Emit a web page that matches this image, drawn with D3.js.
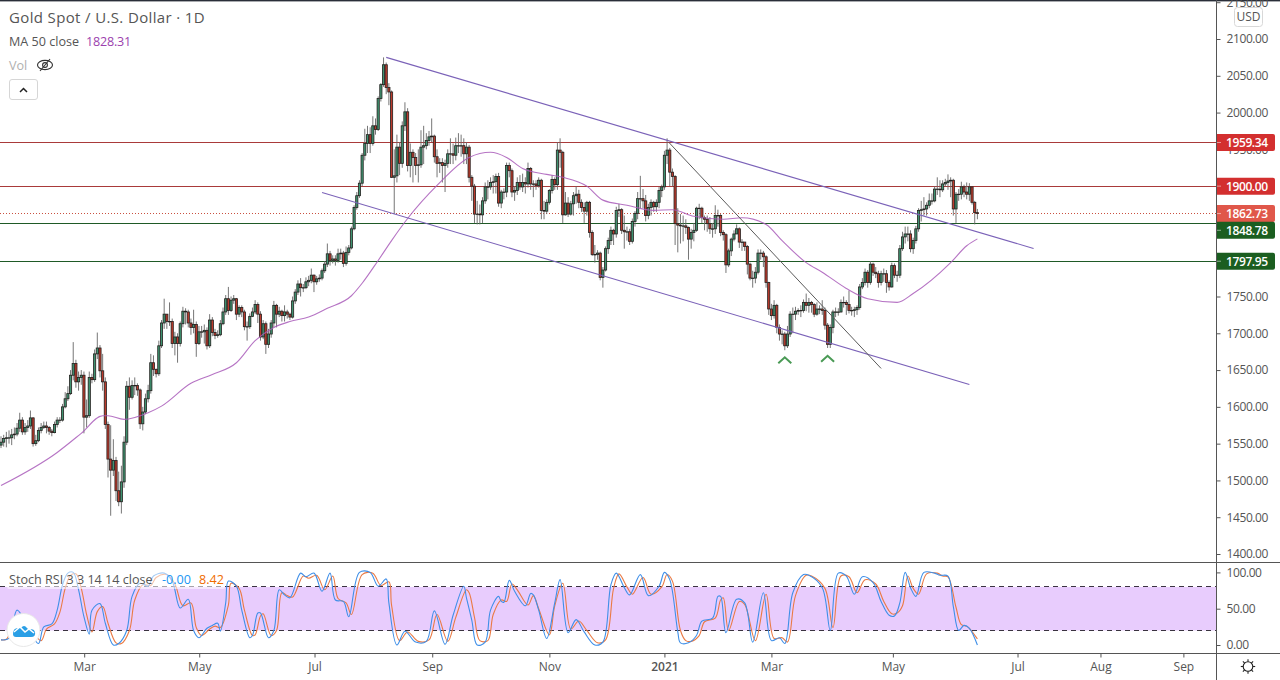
<!DOCTYPE html>
<html><head><meta charset="utf-8">
<style>html,body{margin:0;padding:0;background:#fff;overflow:hidden}svg{display:block}text{font-family:"Open Sans",sans-serif}</style>
<script src="https://cdnjs.cloudflare.com/ajax/libs/d3/7.8.5/d3.min.js"></script>
</head><body>
<svg id="c" width="1280" height="680"></svg>
<script>
const opens=[
1548,1552,1557,1558,1558,1562,1563,1571,1582,1566,
1572,1574,1585,1550,1554,1568,1572,1574,1572,1567,
1565,1576,1582,1582,1600,1611,1618,1643,1659,1634,
1640,1643,1586,1588,1640,1637,1672,1680,1649,1634,
1576,1529,1514,1527,1486,1471,1498,1552,1628,1613,
1629,1629,1623,1577,1593,1611,1622,1660,1651,1645,
1683,1714,1726,1716,1716,1686,1695,1686,1713,1730,
1729,1714,1708,1712,1686,1702,1702,1704,1683,1718,
1701,1697,1698,1713,1729,1747,1731,1745,1747,1726,
1735,1729,1709,1709,1723,1729,1739,1726,1695,1713,
1685,1699,1714,1738,1726,1730,1724,1729,1726,1722,
1744,1756,1767,1762,1762,1770,1772,1779,1770,1774,
1775,1785,1794,1808,1799,1801,1799,1808,1809,1795,
1810,1816,1842,1871,1887,1904,1942,1958,1970,1958,
1982,1977,2019,2038,2065,2034,2028,1912,1914,1953,
1931,1982,2001,1928,1946,1939,1928,1929,1953,1955,
1962,1967,1968,1940,1931,1932,1928,1931,1944,1944,
1942,1955,1955,1955,1944,1953,1912,1900,1862,1862,
1861,1880,1899,1899,1905,1906,1913,1877,1892,1892,
1928,1921,1892,1894,1905,1899,1905,1903,1924,1903,
1903,1901,1908,1867,1866,1878,1894,1909,1902,1949,
1946,1861,1877,1862,1876,1887,1889,1878,1871,1866,
1878,1837,1807,1807,1809,1776,1786,1815,1826,1840,
1835,1867,1868,1840,1838,1838,1825,1852,1863,1883,
1883,1880,1860,1871,1878,1872,1878,1894,1899,1942,
1949,1919,1913,1849,1847,1846,1846,1844,1828,1837,
1840,1870,1870,1857,1855,1849,1842,1842,1860,1860,
1837,1834,1793,1812,1828,1835,1842,1824,1824,1818,
1794,1775,1775,1783,1809,1809,1804,1769,1733,1724,
1738,1708,1699,1699,1683,1699,1726,1726,1730,1731,
1731,1742,1738,1742,1739,1726,1733,1733,1731,1711,
1685,1708,1729,1729,1729,1742,1742,1739,1731,1731,
1732,1735,1763,1769,1783,1769,1794,1783,1781,1769,
1781,1781,1769,1763,1792,1779,1779,1815,1831,1835,
1835,1815,1826,1842,1867,1868,1869,1874,1880,1880,
1896,1896,1895,1903,1905,1907,1908,1869,1889,1889,
1899,1892,1889,1899,1878,1864];
const highs=[
1560,1562,1566,1568,1570,1572,1578,1592,1586,1578,
1582,1595,1586,1562,1572,1578,1580,1580,1574,1570,
1580,1586,1586,1604,1620,1628,1650,1688,1664,1648,
1650,1648,1610,1648,1645,1678,1701,1684,1672,1640,
1580,1575,1556,1532,1512,1520,1560,1635,1640,1636,
1640,1632,1625,1600,1618,1630,1672,1670,1652,1690,
1718,1747,1726,1742,1720,1702,1700,1716,1736,1734,
1732,1720,1732,1716,1710,1710,1712,1708,1726,1722,
1706,1704,1718,1735,1752,1763,1750,1752,1748,1738,
1738,1732,1716,1727,1735,1745,1742,1730,1718,1716,
1706,1718,1744,1740,1736,1732,1738,1732,1728,1750,
1760,1772,1775,1767,1776,1778,1788,1780,1778,1780,
1788,1798,1822,1812,1806,1806,1815,1815,1812,1818,
1820,1845,1874,1892,1908,1945,1978,1982,1980,1995,
1992,2022,2040,2075,2068,2040,2030,1950,1970,1960,
1988,2014,2006,1958,1950,1945,1950,1976,1982,1972,
1975,1992,1970,1950,1938,1938,1936,1950,1965,1958,
1966,1972,1970,1965,1960,1956,1915,1903,1880,1875,
1885,1905,1908,1912,1915,1917,1918,1895,1897,1932,
1932,1924,1900,1912,1915,1917,1912,1932,1926,1908,
1908,1912,1910,1880,1882,1896,1915,1912,1960,1965,
1948,1892,1885,1880,1892,1900,1895,1882,1878,1880,
1880,1840,1820,1813,1811,1790,1818,1830,1845,1842,
1872,1876,1870,1860,1845,1842,1856,1866,1892,1914,
1896,1888,1876,1882,1880,1882,1899,1902,1948,1965,
1952,1924,1915,1870,1862,1860,1855,1845,1842,1850,
1872,1876,1872,1860,1860,1858,1850,1874,1868,1862,
1840,1836,1815,1830,1840,1848,1844,1828,1820,1820,
1796,1785,1790,1814,1814,1812,1806,1770,1740,1745,
1740,1712,1704,1702,1710,1730,1735,1736,1734,1738,
1746,1754,1748,1744,1741,1742,1738,1745,1735,1714,
1712,1732,1735,1734,1746,1750,1745,1758,1736,1736,
1738,1767,1775,1788,1786,1798,1796,1790,1785,1785,
1788,1786,1772,1796,1795,1785,1820,1838,1845,1845,
1840,1830,1846,1870,1880,1885,1878,1890,1890,1900,
1912,1908,1908,1910,1916,1912,1910,1892,1896,1906,
1902,1905,1904,1900,1880,1869];
const lows=[
1544,1546,1545,1550,1548,1556,1560,1566,1562,1562,
1566,1570,1546,1547,1552,1564,1570,1564,1562,1560,
1564,1572,1578,1580,1598,1608,1616,1636,1626,1622,
1630,1564,1572,1585,1632,1634,1665,1640,1622,1570,
1504,1452,1506,1472,1465,1455,1490,1548,1596,1610,
1616,1615,1570,1568,1590,1606,1618,1642,1640,1642,
1680,1706,1706,1710,1680,1670,1660,1682,1708,1712,
1708,1698,1700,1668,1684,1694,1686,1678,1680,1696,
1692,1694,1696,1711,1725,1725,1729,1740,1718,1722,
1722,1704,1690,1706,1722,1726,1714,1690,1692,1672,
1680,1694,1708,1708,1722,1716,1716,1720,1718,1720,
1740,1752,1750,1756,1760,1764,1768,1756,1766,1770,
1772,1782,1790,1792,1795,1792,1796,1800,1790,1792,
1806,1814,1840,1868,1884,1900,1935,1945,1945,1955,
1970,1975,2015,2035,2025,2010,1911,1862,1905,1915,
1925,1975,1920,1912,1905,1915,1905,1925,1930,1950,
1955,1960,1932,1912,1918,1905,1892,1925,1930,1930,
1935,1945,1940,1930,1930,1905,1880,1850,1848,1848,
1850,1876,1882,1895,1890,1890,1872,1870,1882,1885,
1912,1885,1880,1888,1895,1892,1890,1898,1895,1885,
1895,1898,1855,1855,1862,1875,1890,1895,1895,1925,
1850,1860,1858,1860,1860,1876,1870,1865,1850,1860,
1830,1805,1796,1800,1772,1762,1784,1808,1820,1820,
1830,1858,1835,1815,1826,1820,1822,1845,1855,1870,
1870,1852,1855,1860,1865,1865,1870,1885,1895,1930,
1900,1900,1820,1810,1822,1825,1835,1800,1815,1825,
1838,1855,1850,1840,1838,1835,1830,1835,1845,1832,
1826,1782,1790,1805,1825,1835,1816,1812,1812,1780,
1772,1762,1768,1780,1800,1790,1762,1725,1718,1720,
1700,1690,1685,1677,1680,1695,1700,1718,1725,1722,
1728,1730,1728,1728,1722,1724,1726,1725,1705,1680,
1680,1700,1722,1724,1728,1735,1725,1727,1724,1722,
1725,1732,1760,1765,1762,1766,1778,1775,1762,1765,
1770,1755,1758,1762,1775,1770,1775,1812,1822,1825,
1810,1808,1822,1838,1852,1860,1860,1870,1875,1878,
1888,1885,1892,1900,1895,1885,1860,1850,1880,1882,
1885,1882,1880,1875,1848,1855];
const closes=[
1552,1557,1558,1558,1562,1563,1571,1582,1566,1572,
1574,1585,1550,1554,1568,1572,1574,1572,1567,1565,
1576,1582,1582,1600,1611,1618,1643,1659,1634,1640,
1643,1586,1588,1640,1637,1672,1680,1649,1634,1576,
1529,1514,1527,1486,1471,1498,1552,1628,1613,1629,
1629,1623,1577,1593,1611,1622,1660,1651,1645,1683,
1714,1726,1716,1716,1686,1695,1686,1713,1730,1729,
1714,1708,1712,1686,1702,1702,1704,1683,1718,1701,
1697,1698,1713,1729,1747,1731,1745,1747,1726,1735,
1729,1709,1709,1723,1729,1739,1726,1695,1713,1685,
1699,1714,1738,1726,1730,1724,1729,1726,1722,1744,
1756,1767,1762,1762,1770,1772,1779,1770,1774,1775,
1785,1794,1808,1799,1801,1799,1808,1809,1795,1810,
1816,1842,1871,1887,1904,1942,1958,1970,1958,1982,
1977,2019,2038,2065,2034,2028,1912,1914,1953,1931,
1982,2001,1928,1946,1939,1928,1929,1953,1955,1962,
1967,1968,1940,1931,1932,1928,1931,1944,1944,1942,
1955,1955,1955,1944,1953,1912,1900,1862,1862,1861,
1880,1899,1899,1905,1906,1913,1877,1892,1892,1928,
1921,1892,1894,1905,1899,1905,1903,1924,1903,1903,
1901,1908,1867,1866,1878,1894,1909,1902,1949,1946,
1861,1877,1862,1876,1887,1889,1878,1871,1866,1878,
1837,1807,1807,1809,1776,1786,1815,1826,1840,1835,
1867,1868,1840,1838,1838,1825,1852,1863,1883,1883,
1880,1860,1871,1878,1872,1878,1894,1899,1942,1949,
1919,1913,1849,1847,1846,1846,1844,1828,1837,1840,
1870,1870,1857,1855,1849,1842,1842,1860,1860,1837,
1834,1793,1812,1828,1835,1842,1824,1824,1818,1794,
1775,1775,1783,1809,1809,1804,1769,1733,1724,1738,
1708,1699,1699,1683,1699,1726,1726,1730,1731,1731,
1742,1738,1742,1739,1726,1733,1733,1731,1711,1685,
1708,1729,1729,1729,1742,1742,1739,1731,1731,1732,
1735,1763,1769,1783,1769,1794,1783,1781,1769,1781,
1781,1769,1763,1792,1779,1779,1815,1831,1835,1835,
1815,1826,1842,1867,1868,1869,1874,1880,1880,1896,
1896,1895,1903,1905,1907,1908,1869,1889,1889,1899,
1892,1889,1899,1878,1864,1862.73];

const maBars=[0,21,30,38,40,46,55,60,71,79,88,95,102,108,115,122,131,135,141,146,152,163,175,183,189,195,204,210,219,225,234,244,251,259,270,277,286,292,301,307,316,324,335,341,355,361,365];
const maValues=[1493,1538,1564,1588,1588,1583,1592,1601,1632,1644,1660,1690,1708,1716,1722,1734,1751,1768,1799,1826,1856,1901,1939,1946,1939,1924,1916,1912,1900,1881,1874,1867,1868,1859,1855,1857,1848,1826,1796,1783,1761,1747,1742,1754,1796,1819,1828.31];

const kBars=[0,3,6,10,14,16,19,21,23,25,27,29,31,33,34,37,39,42,44,47,49,52,55,57,61,64,67,70,72,74,77,79,81,82,84,85,88,90,93,94,96,97,100,102,104,106,108,112,114,117,120,123,125,128,130,134,138,141,144,145,148,151,155,159,162,166,169,173,174,176,178,181,183,186,187,188,190,192,196,198,199,201,204,207,209,212,215,218,222,225,228,230,233,235,239,242,246,248,250,253,254,257,260,262,266,268,269,271,275,278,281,285,288,291,293,296,300,302,307,310,313,316,319,322,326,329,332,334,336,338,340,342,345,349,351,354,356,358,360,362,365];
const kValues=[7,9,48,25,2,25,29,48,83,99,100,76,39,15,48,57,30,0,2,20,67,85,81,95,99,88,51,63,20,10,23,27,30,19,58,88,81,48,10,13,44,44,10,20,76,69,65,99,94,99,74,99,62,60,39,100,100,81,91,58,0,19,4,5,47,1,41,81,65,34,0,4,48,67,60,59,89,74,54,71,69,48,9,58,90,17,35,18,0,4,83,99,79,69,97,68,81,100,90,18,3,3,13,33,37,67,67,17,63,58,4,72,6,10,2,72,97,96,79,20,99,95,70,94,86,60,41,40,58,100,79,67,100,99,96,95,53,20,27,23,0];
const dBars=[0,2,7,11,15,17,20,22,24,26,28,30,32,34,36,38,40,43,45,48,50,53,56,58,62,65,68,71,73,75,78,80,82,85,86,89,91,94,95,97,98,101,103,105,107,109,113,115,118,121,124,126,129,131,135,139,142,145,146,149,152,156,160,163,167,170,174,175,177,179,182,184,187,189,191,193,197,199,201,205,207,210,213,216,219,223,226,229,231,234,236,240,243,247,249,251,254,256,258,261,263,267,269,270,272,276,278,282,286,289,292,294,297,301,303,308,311,314,317,320,323,327,330,333,335,337,339,341,343,346,350,352,354,357,359,361,362,365];
const dValues=[7,8,40,22,6,22,29,45,78,96,98,78,42,18,46,53,30,3,2,20,62,83,82,93,97,84,54,58,24,13,22,26,24,55,85,78,48,13,14,40,43,13,20,72,68,66,95,92,96,76,95,64,58,42,97,99,82,87,55,6,18,5,7,42,5,38,76,72,38,6,6,42,62,60,84,76,55,68,50,14,54,85,22,33,20,3,7,78,98,80,70,93,70,80,97,88,20,6,5,13,32,37,62,65,20,60,56,6,70,9,10,4,68,96,95,78,24,95,94,72,90,84,60,43,44,54,95,78,70,98,99,95,94,52,28,26,23,8.42];

const hLevels=[1959.34,1900,1848.78,1797.95];
const hColors=["#a93a3a","#a93a3a","#1f5a26","#1f5a26"];
const lastPrice=1862.73;
const badgeValues=[1959.34,1900.00,1862.73,1848.78,1797.95];
const badgeShown=[1959.34,1900.00,1862.73,1840,1797.95];
const badgeColors=["#d32f2f","#d32f2f","#e0574a","#1b5e20","#1b5e20"];
const upperChannel=[[144,2075],[386,1815.3]];
const lowerChannel=[[120,1891.4],[362,1630.5]];
const blackTrend=[[249.7,1959.3],[329,1652.2]];
const chevrons=[[293,1666],[309,1668]];
const priceTicks=[2150,2100,2050,2000,1950,1900,1850,1800,1750,1700,1650,1600,1550,1500,1450,1400];
const stochTicks=[100,50,0];
const timeTickBars=[31.1,74.1,117.2,161.2,205,248,288,333.4,380,411,442];
const timeTickLabels=["Mar","May","Jul","Sep","Nov","2021","Mar","May","Jul","Aug","Sep"];

const W=1280,H=680,R=1216,PT=1,PB=562,ST=563,SB=653;
const svg=d3.select("#c");
const x=d3.scaleLinear().domain([0,365]).range([1,977.4]);
const y=d3.scaleLinear().domain([1400,2100]).range([554,39]);
const s=d3.scaleLinear().domain([0,100]).range([645,572.4]);
const ink="#555";
const crisp=v=>Math.floor(v)+.5;

const defs=svg.append("defs");
defs.append("clipPath").attr("id","mc").append("rect").attr("x",0).attr("y",PT).attr("width",R).attr("height",PB-PT);
defs.append("clipPath").attr("id","sc").append("rect").attr("x",0).attr("y",ST).attr("width",R).attr("height",SB-ST);

const main=svg.append("g").attr("clip-path","url(#mc)");
main.selectAll("line.h").data(hLevels).join("line").attr("class","h")
 .attr("x1",0).attr("x2",R).attr("y1",d=>crisp(y(d))).attr("y2",d=>crisp(y(d)))
 .attr("stroke",(d,i)=>hColors[i]).attr("stroke-width",1.1);
main.append("line").attr("x1",0).attr("x2",R).attr("y1",crisp(y(lastPrice))).attr("y2",crisp(y(lastPrice)))
 .attr("stroke","#c9503f").attr("stroke-dasharray","1 2").attr("stroke-width",1);

const bars=closes.map((c,i)=>({i,o:opens[i],h:highs[i],l:lows[i],c}));
main.append("g").selectAll("line").data(bars).join("line")
 .attr("x1",d=>x(d.i)).attr("x2",d=>x(d.i)).attr("y1",d=>y(d.h)).attr("y2",d=>y(d.l))
 .attr("stroke","#666").attr("stroke-width",0.9);
main.append("g").selectAll("rect").data(bars).join("rect")
 .attr("x",d=>x(d.i)-1.1).attr("width",2.2)
 .attr("y",d=>y(Math.max(d.o,d.c)))
 .attr("height",d=>Math.max(0.4,Math.abs(y(d.o)-y(d.c))))
 .attr("fill",d=>d.c>=d.o?"#3f9270":"#bb3a2c")
 .attr("stroke","#24201e").attr("stroke-width",0.8);

main.append("path").datum(maBars.map((b,i)=>[b,maValues[i]]))
 .attr("d",d3.line().x(d=>x(d[0])).y(d=>y(d[1])).curve(d3.curveMonotoneX))
 .attr("fill","none").attr("stroke","#a95cba").attr("stroke-width",1.1).attr("opacity",.85);

const ln=d3.line().x(d=>x(d[0])).y(d=>y(d[1]));
[upperChannel,lowerChannel].forEach(t=>main.append("path").attr("d",ln(t)).attr("stroke","#7b62b8").attr("stroke-width",1.1).attr("fill","none"));
main.append("path").attr("d",ln(blackTrend)).attr("stroke","#5a5a5a").attr("stroke-width",1).attr("fill","none");
main.append("g").selectAll("path").data(chevrons).join("path")
 .attr("d",d=>{const a=x(d[0]),b=y(d[1]);return `M${a-6.5},${b+5}L${a},${b-1}L${a+6.5},${b+5}`;})
 .attr("fill","none").attr("stroke","#4a9a55").attr("stroke-width",2);

// stochastic pane
const sp=svg.append("g").attr("clip-path","url(#sc)");
sp.append("rect").attr("x",0).attr("width",R).attr("y",s(80)).attr("height",s(20)-s(80)).attr("fill","#e8ccfd");
[80,20].forEach(v=>sp.append("line").attr("x1",0).attr("x2",R).attr("y1",crisp(s(v))).attr("y2",crisp(s(v))).attr("stroke","#3a3340").attr("stroke-dasharray","5 4").attr("stroke-width",1));
const sl=d3.line().x(d=>x(d[0])).y(d=>s(d[1])).curve(d3.curveCatmullRom.alpha(0.5));
sp.append("path").attr("d",sl(dBars.map((b,i)=>[b,dValues[i]]))).attr("fill","none").attr("stroke","#ea7a44").attr("stroke-width",1.1);
sp.append("path").attr("d",sl(kBars.map((b,i)=>[b,kValues[i]]))).attr("fill","none").attr("stroke","#3f8fe8").attr("stroke-width",1.1);

// frame
svg.append("rect").attr("x",0).attr("y",0).attr("width",W).attr("height",1.4).attr("fill","#2a2e39");
[PB,SB].forEach(v=>svg.append("line").attr("x1",0).attr("x2",W).attr("y1",v+.5).attr("y2",v+.5).attr("stroke","#555").attr("stroke-width",1));
svg.append("line").attr("x1",R+.5).attr("x2",R+.5).attr("y1",0).attr("y2",H).attr("stroke","#555").attr("stroke-width",1);

// axes
const pa=svg.append("g").attr("transform",`translate(${R+.5},0)`).call(d3.axisRight(y).tickValues(priceTicks).tickSize(4).tickPadding(6).tickFormat(d3.format(".2f")));
const sa=svg.append("g").attr("transform",`translate(${R+.5},0)`).call(d3.axisRight(s).tickValues(stochTicks).tickSize(4).tickPadding(6).tickFormat(d3.format(".2f")));
const ta=svg.append("g").attr("transform",`translate(0,${SB+.5})`).call(d3.axisBottom(x).tickValues(timeTickBars).tickSize(4).tickPadding(5).tickFormat((d,i)=>timeTickLabels[i]));
[pa,sa,ta].forEach(a=>{a.select(".domain").remove();a.selectAll("line").attr("stroke","#555");
 a.selectAll("text").attr("fill",ink).style("font-size","12px").style("letter-spacing","-0.4px").style("font-family",'"Open Sans",sans-serif');});
ta.selectAll("text").style("letter-spacing","0");
ta.selectAll("text").filter((d,i)=>timeTickLabels[i]==="2021").style("font-weight",600);

// badges
const by=d3.range(badgeValues.length).map(i=>y(badgeShown[i]));
const bg=svg.append("g");
badgeValues.forEach((v,i)=>{
 bg.append("path").attr("d",`M${R+1},${by[i]-8.5}H${R+57}q2,0 2,2V${by[i]+6.5}q0,2 -2,2H${R+1}Z`).attr("fill",badgeColors[i]);
 bg.append("line").attr("x1",R+1).attr("x2",R+5).attr("y1",by[i]).attr("y2",by[i]).attr("stroke","#fff").attr("stroke-opacity",.5);
 bg.append("text").attr("x",R+10).attr("y",by[i]+4.4).attr("fill","#fff").style("font-size","12px").style("letter-spacing","-0.4px").style("font-weight",600).text(v.toFixed(2));
});

// USD button
svg.append("rect").attr("x",1234.5).attr("y",7.5).attr("width",28).attr("height",19).attr("rx",3).attr("fill","#fff").attr("stroke","#d8d8d8");
svg.append("text").attr("x",1248.5).attr("y",21).attr("text-anchor","middle").attr("fill",ink).style("font-size","12px").text("USD");

// legends
const tx=(px,py,t,col,sz,ls)=>svg.append("text").attr("x",px).attr("y",py).attr("fill",col).style("font-size",sz+"px").style("letter-spacing",(ls||0)+"px").text(t);
tx(9,23,"Gold Spot / U.S. Dollar · 1D","#555",15,.36);
tx(9,46,"MA 50 close","#555",12.6);
tx(86,46,"1828.31","#9c3fae",12.6,-.2);
tx(9,70,"Vol","#b0b0b0",12.6);
const eye=svg.append("g").attr("transform","translate(45,65)").attr("fill","none").attr("stroke","#333").attr("stroke-width",1.1);
eye.append("ellipse").attr("rx",7.5).attr("ry",4.6);
eye.append("circle").attr("r",2.4);
eye.append("line").attr("x1",-5).attr("y1",6).attr("x2",5).attr("y2",-6);
svg.append("rect").attr("x",9.5).attr("y",79.5).attr("width",28).attr("height",20).attr("rx",2.5).attr("fill","#fff").attr("stroke","#d6d6d6");
svg.append("path").attr("d","M20,92L23.5,88.5L27,92").attr("fill","none").attr("stroke","#222").attr("stroke-width",1.5);

svg.append("rect").attr("x",7).attr("y",571).attr("width",218).attr("height",18).attr("rx",2).attr("fill","#fff").attr("opacity",.55);
tx(9,584,"Stoch RSI 3 3 14 14 close","#555",12.6);
tx(162,584,"-0.00","#2196f3",12.6);
tx(199,584,"8.42","#ef6c00",12.6);

// logo
svg.append("circle").attr("cx",23.5).attr("cy",630).attr("r",16.5).attr("fill","#fff").attr("stroke","#e8e8e8");
svg.append("path").attr("d","M13,634Q13,628 18,628L21,628Q24,624 27,628L29,630Q34,628 35,632Q36,637 31,637L16,637Q13,637 13,634Z").attr("fill","#2a9fe6");
svg.append("path").attr("d","M14,632L20,627L25,632L29,629L34,633").attr("fill","none").attr("stroke","#fff").attr("stroke-width",1.5);

// settings sun
const sun=svg.append("g").attr("transform","translate(1248,666.5)").attr("fill","none").attr("stroke","#222").attr("stroke-width",1.1);
sun.append("circle").attr("r",4.8);
d3.range(8).forEach(k=>{const a=k*Math.PI/4;sun.append("line").attr("x1",4.8*Math.cos(a)).attr("y1",4.8*Math.sin(a)).attr("x2",7.2*Math.cos(a)).attr("y2",7.2*Math.sin(a));});
</script></body></html>
